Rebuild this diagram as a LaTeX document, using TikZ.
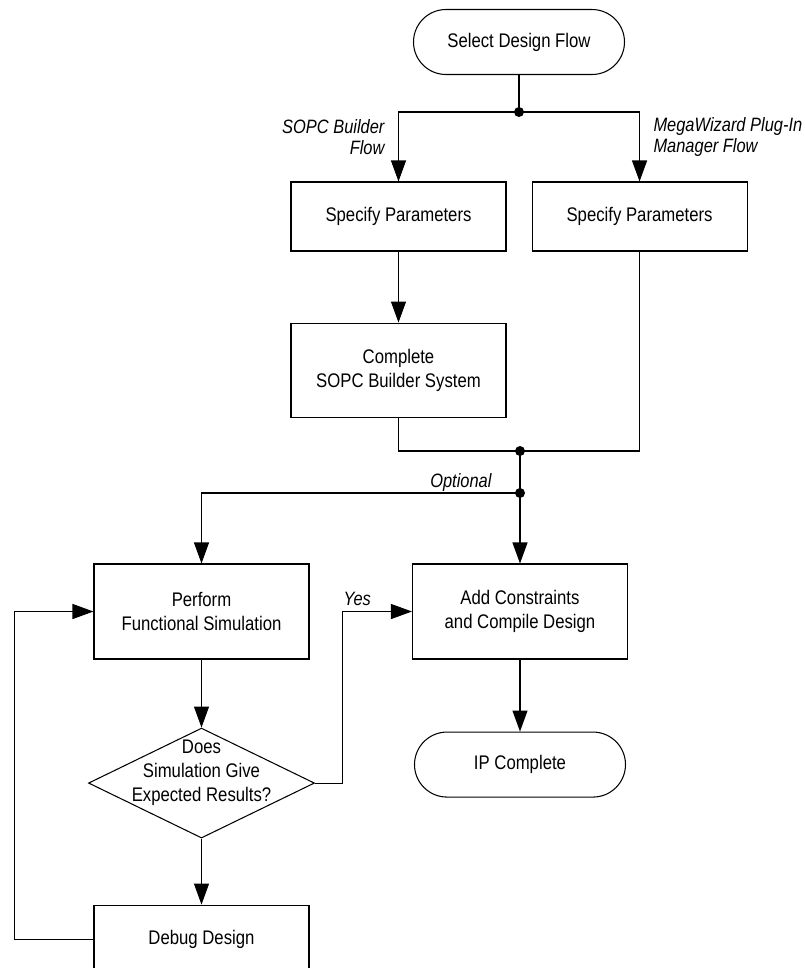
\documentclass[tikz,border=0pt]{standalone}
\usepackage{fontspec}
\setmainfont{Liberation Sans}[FakeStretch=0.85]
\usetikzlibrary{shapes.geometric, arrows.meta, positioning}

\begin{document}
\begin{tikzpicture}[
  line width=0.6pt,
  node distance=1.42cm,
  box/.style={draw, minimum width=4.3cm, minimum height=1.38cm, inner sep=0pt, align=center, font=\fontsize{11.2}{13.6}\selectfont},
  term/.style={box, rounded corners=0.65cm, minimum width=4.22cm, minimum height=1.3cm},
  decision/.style={draw, diamond, minimum width=4.52cm, minimum height=2.2cm, inner sep=0pt},
  note/.style={font=\fontsize{11}{12.2}\selectfont\itshape, inner sep=0pt},
  arr/.style={-{Triangle[length=0.42cm, width=0.3cm]}},
  dot/.style={circle, fill, inner sep=0pt, minimum size=0.2cm}
]
  \useasboundingbox (0,0) rectangle (16.1,-19.36);

  \node[term] (start) at (10.38,-0.84) {Select Design Flow};
  \node[dot] (split) at (10.38,-2.24) {};
  \node[box] (sopcpar) at (7.97,-4.33) {Specify Parameters};
  \node[box, right=0.5cm of sopcpar] (megapar) {Specify Parameters};
  \node[box, below=of sopcpar, minimum height=1.88cm] (sopcsys) {Complete\\SOPC Builder System};
  \node[note, anchor=east, align=right] (sopclbl) at (7.7,-2.74) {SOPC Builder\\Flow};
  \node[note, anchor=west, align=left] (megalbl) at (13.06,-2.74) {MegaWizard Plug-In\\Manager Flow};

  \node[dot] (merge) at (10.4,-9.02) {};
  \node[dot] (opt) at (10.4,-9.86) {};
  \node[note, anchor=base east] (optlbl) at (9.84,-9.74) {Optional};

  \node[box, minimum height=1.9cm] (perform) at (4.03,-12.23) {Perform\\Functional Simulation};
  \node[box, minimum height=1.9cm] (add) at (10.4,-12.23) {Add Constraints\\and Compile Design};
  \node[decision, below=1.36cm of perform,
    label={[align=center, font=\fontsize{11.2}{13.6}\selectfont, yshift=0.2cm]center:Does\\Simulation Give\\Expected Results?}] (dec) {};
  \node[box, below=1.32cm of dec, minimum height=1.36cm] (debug) {Debug Design};
  \node[term, below=1.44cm of add] (done) {IP Complete};
  \node[note, anchor=base west] (yeslbl) at (6.86,-12.1) {Yes};

  \coordinate (yesbend) at ([xshift=0.54cm]dec.east);
  \coordinate (loopbend) at ([xshift=-1.58cm]debug.west);

  \draw (start) -- (split.center);
  \draw[arr] (split.center) -| (sopcpar.north);
  \draw[arr] (split.center) -| (megapar.north);
  \draw[arr] (sopcpar) -- (sopcsys);
  \draw (sopcsys.south) |- (merge.center) -| (megapar.south);
  \draw (merge.center) -- (opt.center);
  \draw[arr] (opt.center) -- (add);
  \draw[arr] (opt.center) -| (perform.north);
  \draw[arr] (perform) -- (dec);
  \draw[arr] (dec) -- (debug);
  \draw[arr] (dec.east) -- (yesbend) |- (add.west);
  \draw[arr] (add) -- (done);
  \draw[arr] (debug.west) -- (loopbend) |- (perform.west);
\end{tikzpicture}
\end{document}
